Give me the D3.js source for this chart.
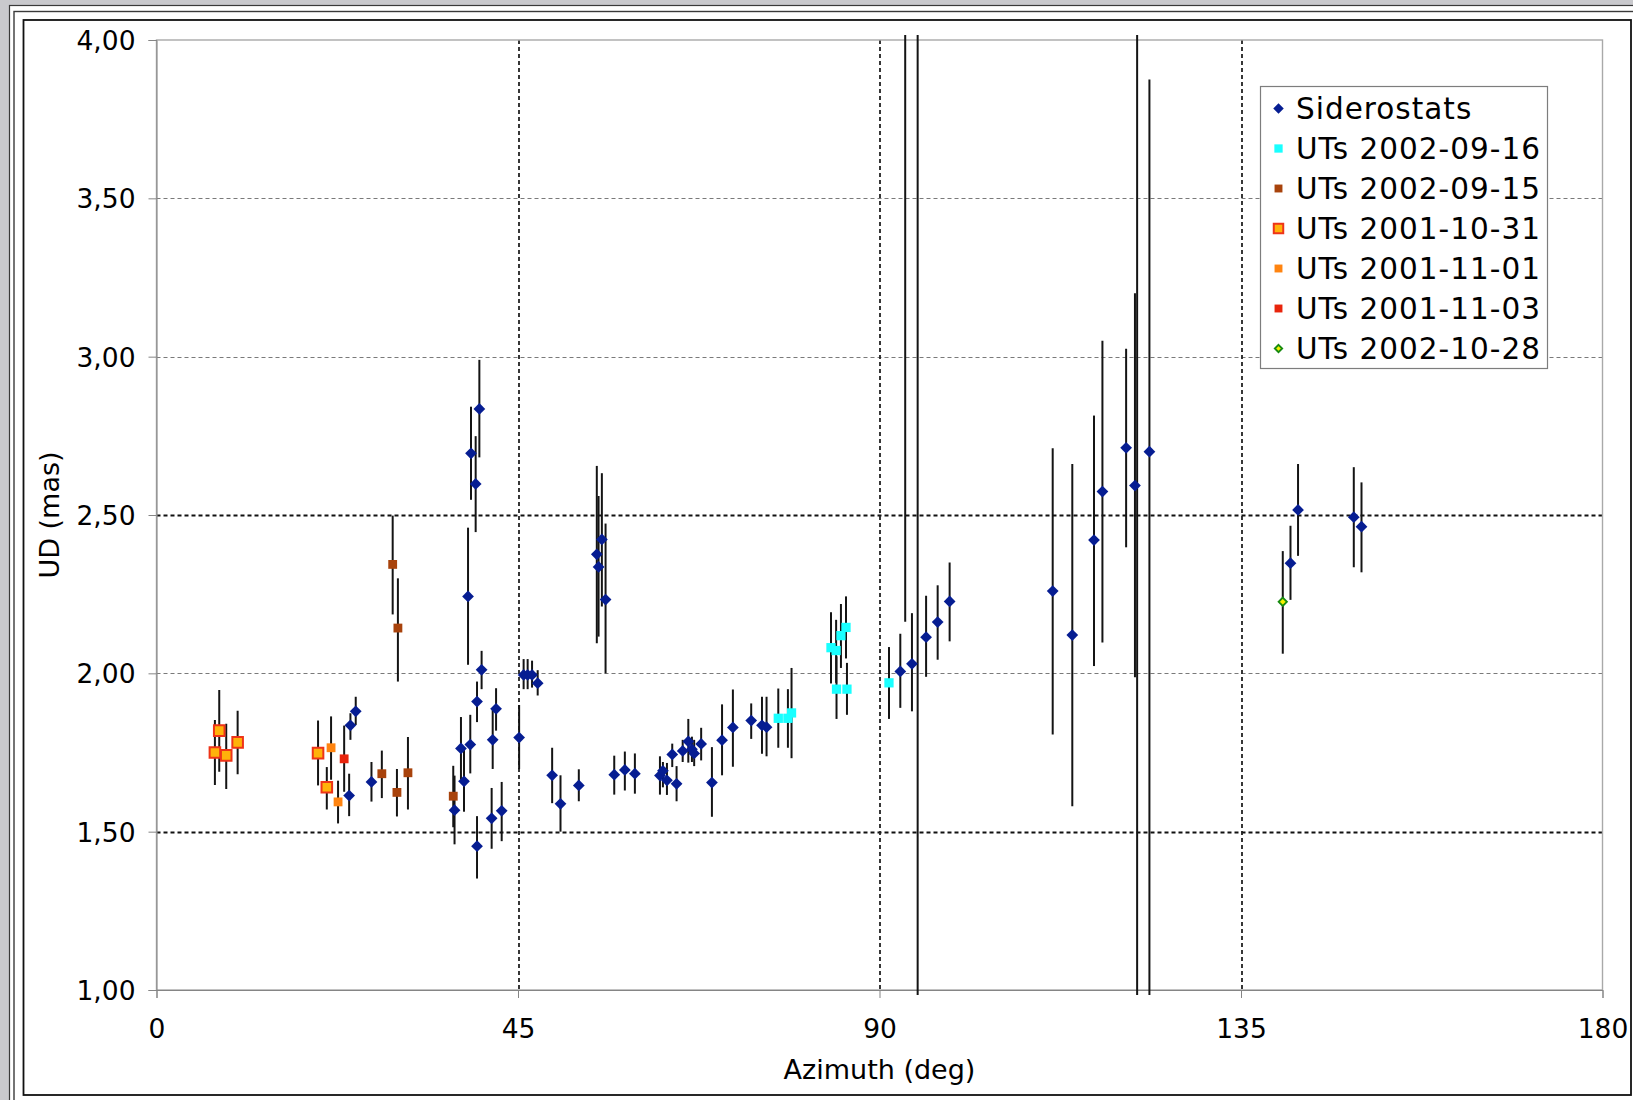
<!DOCTYPE html>
<html>
<head>
<meta charset="utf-8">
<script src="https://cdn.jsdelivr.net/npm/d3@7"></script>
<style>
body { margin: 0; background: #fff; }
text { font-family: "DejaVu Sans", Verdana, sans-serif; fill: #000; }
</style>
</head>
<body>
<svg id="chart" width="1633" height="1100"></svg>
<script>
// Siderostats (azimuth deg, UD mas, error bar low / high)
var sidAz = [23.98, 24.14, 24.8, 26.76, 37.1, 37.9, 38.28, 38.78, 39.06, 39.15, 39.73, 39.9, 39.9, 40.19, 40.47,
    41.72, 41.85, 42.27, 42.97, 45.14, 45.7, 46.2, 46.75, 47.45, 49.25, 50.29, 52.57, 54.81, 55.03, 55.44, 55.9,
    56.98, 58.3, 59.55, 62.67, 63.04, 63.54, 64.2, 64.74, 65.5, 66.2, 66.65, 66.93, 67.8, 69.14, 70.4, 71.75,
    74.03, 75.37, 75.94, 92.59, 93.2, 94.04, 94.75, 95.8, 97.24, 98.73, 111.56, 114.0, 116.7, 117.75, 120.7,
    121.8, 122.07, 123.6, 141.16, 142.1, 149.04, 150.0];
var sidUd = [1.614, 1.836, 1.880, 1.657, 1.568, 1.763, 1.659, 2.243, 1.775, 2.695, 2.598, 1.911, 1.454, 2.835, 2.011,
    1.542, 1.790, 1.888, 1.566, 1.797, 1.995, 1.995, 1.995, 1.969, 1.678, 1.588, 1.646, 2.376, 2.336, 2.423, 2.233,
    1.680, 1.695, 1.683, 1.677, 1.692, 1.662, 1.744, 1.651, 1.755, 1.785, 1.760, 1.747, 1.777, 1.655, 1.789, 1.829,
    1.851, 1.836, 1.830, 2.006, 4.40, 2.030, 4.50, 2.114, 2.162, 2.227, 2.260, 2.121, 2.421, 2.574, 2.712,
    2.593, 4.50, 2.700, 2.348, 2.516, 2.493, 2.463];
var sidLo = [1.549, 1.790, 1.837, 1.595, 1.460, 1.664, 1.563, 2.027, 1.684, 2.548, 2.446, 1.846, 1.352, 2.682, 1.950,
    1.446, 1.698, 1.819, 1.470, 1.698, 1.950, 1.950, 1.955, 1.930, 1.590, 1.500, 1.596, 2.095, 2.116, 2.211, 2.000,
    1.617, 1.630, 1.620, 1.617, 1.640, 1.616, 1.704, 1.596, 1.720, 1.718, 1.720, 1.707, 1.725, 1.547, 1.678, 1.705,
    1.793, 1.746, 1.738, 1.891, 2.163, 1.880, 0.900, 1.989, 2.043, 2.101, 1.807, 1.580, 2.023, 2.097, 2.398,
    1.988, 0.900, 0.900, 2.232, 2.371, 2.335, 2.319];
var sidHi = [1.683, 1.874, 1.926, 1.720, 1.677, 1.862, 1.765, 2.460, 1.869, 2.842, 2.749, 1.974, 1.549, 2.990, 2.071,
    1.638, 1.885, 1.953, 1.657, 1.900, 2.045, 2.045, 2.040, 2.010, 1.765, 1.678, 1.697, 2.655, 2.560, 2.632, 2.473,
    1.740, 1.753, 1.747, 1.738, 1.720, 1.717, 1.778, 1.707, 1.790, 1.856, 1.800, 1.790, 1.828, 1.767, 1.902, 1.949,
    1.905, 1.926, 1.926, 2.125, 6.640, 2.190, 8.100, 2.245, 2.278, 2.350, 2.711, 2.661, 2.814, 3.050, 3.025,
    3.200, 8.100, 3.875, 2.466, 2.661, 2.651, 2.603];

// UTs 2002-09-16
var ut0916Az = [77.4, 78.6, 79.05, 83.96, 84.6, 85.2, 85.83, 84.65, 85.95, 91.18];
var ut0916Ud = [1.858, 1.858, 1.875, 2.081, 2.072, 2.119, 2.145, 1.950, 1.950, 1.970];
var ut0916Lo = [1.765, 1.765, 1.732, 1.968, 1.970, 2.017, 2.047, 1.856, 1.869, 1.856];
var ut0916Hi = [1.952, 1.950, 2.017, 2.193, 2.169, 2.219, 2.243, 2.054, 2.033, 2.083];

// UTs 2002-09-15
var ut0915Az = [29.4, 30.05, 28.05, 29.93, 31.3, 36.94];
var ut0915Ud = [2.344, 2.143, 1.683, 1.624, 1.686, 1.612];
var ut0915Lo = [2.186, 1.974, 1.606, 1.548, 1.570, 1.514];
var ut0915Hi = [2.498, 2.300, 1.756, 1.698, 1.799, 1.708];

// UTs 2001-10-31
var ut1031Az = [7.27, 7.81, 8.68, 10.1, 20.11, 21.2];
var ut1031Ud = [1.750, 1.819, 1.741, 1.782, 1.748, 1.640];
var ut1031Lo = [1.647, 1.689, 1.635, 1.681, 1.646, 1.570];
var ut1031Hi = [1.853, 1.947, 1.841, 1.882, 1.851, 1.704];

// UTs 2001-11-01
var ut1101Az = [21.73, 22.6];
var ut1101Ud = [1.765, 1.594];
var ut1101Lo = [1.664, 1.526];
var ut1101Hi = [1.864, 1.661];

// UTs 2001-11-03
var ut1103Az = [23.36];
var ut1103Ud = [1.730];
var ut1103Lo = [1.626];
var ut1103Hi = [1.835];

// UTs 2002-10-28
var ut1028Az = [140.2];
var ut1028Ud = [2.226];
var ut1028Lo = [2.062];
var ut1028Hi = [2.386];

var xTicks = [0, 45, 90, 135, 180];
var yTicks = [1, 1.5, 2, 2.5, 3, 3.5, 4];
var legendLabels = ["Siderostats", "UTs 2002-09-16", "UTs 2002-09-15", "UTs 2001-10-31",
    "UTs 2001-11-01", "UTs 2001-11-03", "UTs 2002-10-28"];

function pts(az, ud, lo, hi) {
    return az.map(function (a, i) { return { az: a, ud: ud[i], lo: lo[i], hi: hi[i] }; });
}

var series = [
    { data: pts(sidAz, sidUd, sidLo, sidHi), shape: d3.symbolDiamond2, size: 88, fill: "#061d92", stroke: "none", sw: 0 },
    { data: pts(ut0916Az, ut0916Ud, ut0916Lo, ut0916Hi), shape: d3.symbolSquare, size: 86, fill: "#19ffff", stroke: "none", sw: 0 },
    { data: pts(ut0915Az, ut0915Ud, ut0915Lo, ut0915Hi), shape: d3.symbolSquare, size: 78, fill: "#a8430c", stroke: "none", sw: 0 },
    { data: pts(ut1031Az, ut1031Ud, ut1031Lo, ut1031Hi), shape: d3.symbolSquare, size: 112, fill: "#ffb20a", stroke: "#ee3418", sw: 2 },
    { data: pts(ut1101Az, ut1101Ud, ut1101Lo, ut1101Hi), shape: d3.symbolSquare, size: 78, fill: "#ff8410", stroke: "none", sw: 0 },
    { data: pts(ut1103Az, ut1103Ud, ut1103Lo, ut1103Hi), shape: d3.symbolSquare, size: 78, fill: "#e8240c", stroke: "none", sw: 0 },
    { data: pts(ut1028Az, ut1028Ud, ut1028Lo, ut1028Hi), shape: d3.symbolDiamond2, size: 44, fill: "#f4f000", stroke: "#168a10", sw: 1.8 }
];

var svg = d3.select("#chart");
var W = 1633, H = 1100;
var margin = { top: 40, right: 30.5, bottom: 110, left: 156.5 };
var width = W - margin.left - margin.right;
var height = H - margin.top - margin.bottom;

// window and chart frame
svg.append("rect").attr("width", W).attr("height", H).attr("fill", "#c9c9cd");
svg.append("rect").attr("x", 9.5).attr("y", 5.5).attr("width", 1700).attr("height", 1200)
    .attr("fill", "#fff").attr("stroke", "#3a3a3a").attr("stroke-width", 1.2);
svg.append("rect").attr("x", 14).attr("y", 11.5).attr("width", 1700).attr("height", 1200)
    .attr("fill", "none").attr("stroke", "#3a3a3a").attr("stroke-width", 1.4);
svg.append("rect").attr("x", 23.5).attr("y", 20).attr("width", 1607.5).attr("height", 1075)
    .attr("fill", "#fff").attr("stroke", "#111").attr("stroke-width", 1.8);

var x = d3.scaleLinear().domain([0, 180]).range([0, width]);
var y = d3.scaleLinear().domain([1, 4]).range([height, 0]);
var fmt = d3.formatLocale({ decimal: ",", thousands: ".", grouping: [3], currency: ["", ""] }).format(".2f");

var g = svg.append("g").attr("transform", "translate(" + margin.left + "," + margin.top + ")");

var defs = svg.append("defs");
defs.append("clipPath").attr("id", "plotClip").append("rect")
    .attr("width", width).attr("height", height);
defs.append("clipPath").attr("id", "barClip").append("rect")
    .attr("y", -5).attr("width", width).attr("height", height + 10);

// grid
g.append("g").selectAll("line").data(yTicks.filter(function (d) { return d > 1 && d < 4; })).join("line")
    .attr("x1", 0).attr("x2", width)
    .attr("y1", function (d) { return Math.round(y(d)) + 0.5; })
    .attr("y2", function (d) { return Math.round(y(d)) + 0.5; })
    .attr("stroke", function (d) { return (d === 1.5 || d === 2.5) ? "#111" : "#7a7a7a"; })
    .attr("stroke-width", function (d) { return (d === 1.5 || d === 2.5) ? 2 : 1.2; })
    .attr("stroke-dasharray", "4,3");
g.append("g").selectAll("line").data(xTicks.filter(function (d) { return d > 0 && d < 180; })).join("line")
    .attr("x1", function (d) { return Math.round(x(d)) + 0.5; })
    .attr("x2", function (d) { return Math.round(x(d)) + 0.5; })
    .attr("y1", 0).attr("y2", height)
    .attr("stroke", "#222").attr("stroke-width", 1.8)
    .attr("stroke-dasharray", "4,3");

g.append("rect").attr("width", width).attr("height", height)
    .attr("fill", "none").attr("stroke", "#a9a9a9").attr("stroke-width", 1.4);

// axes
var yAxis = g.append("g")
    .call(d3.axisLeft(y).tickValues(yTicks).tickSize(8).tickPadding(13).tickFormat(fmt));
var xAxis = g.append("g").attr("transform", "translate(0," + height + ")")
    .call(d3.axisBottom(x).tickValues(xTicks).tickSize(8).tickPadding(21));
[yAxis, xAxis].forEach(function (a) {
    a.select(".domain").attr("stroke", "#858585");
    a.selectAll(".tick line").attr("stroke", "#858585");
    a.selectAll("text").attr("font-size", 26.5).attr("font-family", "DejaVu Sans, Verdana, sans-serif").attr("fill", "#000");
});
yAxis.selectAll("text").attr("dy", "0.36em");

g.append("text").attr("x", width / 2).attr("y", height + 89)
    .attr("text-anchor", "middle").attr("font-size", 27).text("Azimuth (deg)");
g.append("text").attr("transform", "translate(" + (59 - margin.left) + "," + (height / 2) + ") rotate(-90)")
    .attr("text-anchor", "middle").attr("font-size", 27).text("UD (mas)");

// error bars
var bars = g.append("g").attr("clip-path", "url(#barClip)");
series.forEach(function (s) {
    bars.append("g").selectAll("line").data(s.data).join("line")
        .attr("x1", function (d) { return x(d.az); })
        .attr("x2", function (d) { return x(d.az); })
        .attr("y1", function (d) { return y(d.lo); })
        .attr("y2", function (d) { return y(d.hi); })
        .attr("stroke", "#141414").attr("stroke-width", 2);
});

// markers
var marks = g.append("g").attr("clip-path", "url(#plotClip)");
series.forEach(function (s) {
    marks.append("g").selectAll("path").data(s.data).join("path")
        .attr("d", d3.symbol(s.shape, s.size))
        .attr("transform", function (d) { return "translate(" + x(d.az) + "," + y(d.ud) + ")"; })
        .attr("fill", s.fill).attr("stroke", s.stroke).attr("stroke-width", s.sw);
});

// legend
var lg = svg.append("g").attr("transform", "translate(1260.5,86.5)");
lg.append("rect").attr("width", 287).attr("height", 282)
    .attr("fill", "#fff").attr("stroke", "#7d7d7d").attr("stroke-width", 1.2);
var item = lg.selectAll("g.item").data(legendLabels).join("g").attr("class", "item")
    .attr("transform", function (d, i) { return "translate(0," + (22 + i * 40) + ")"; });
item.append("path")
    .attr("transform", "translate(18,0)")
    .attr("d", function (d, i) { var s = series[i]; return d3.symbol(s.shape, s.size * 0.8)(); })
    .attr("fill", function (d, i) { return series[i].fill; })
    .attr("stroke", function (d, i) { return series[i].stroke; })
    .attr("stroke-width", function (d, i) { return series[i].sw; });
item.append("text").attr("x", 35.5).attr("y", 10)
    .attr("font-size", 29.5).attr("letter-spacing", 1)
    .text(function (d) { return d; });
</script>
</body>
</html>
